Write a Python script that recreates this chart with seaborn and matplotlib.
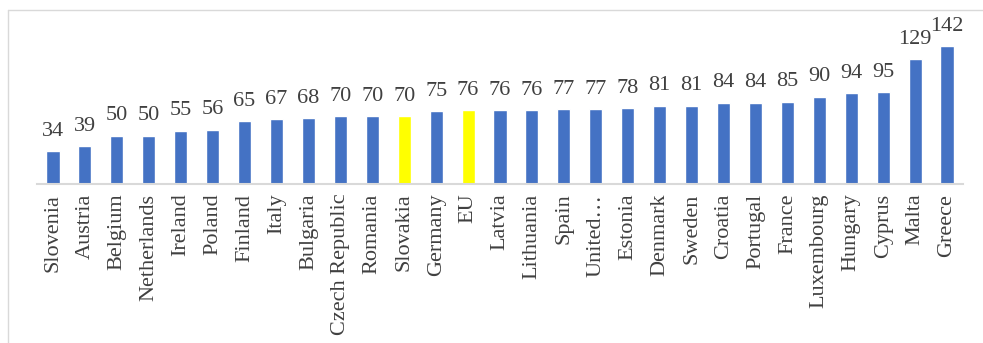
import matplotlib
matplotlib.use("Agg")
import matplotlib.pyplot as plt
import seaborn as sns
import pandas as pd
from matplotlib.lines import Line2D

countries = ["Slovenia", "Austria", "Belgium", "Netherlands", "Ireland", "Poland",
             "Finland", "Italy", "Bulgaria", "Czech Republic", "Romania", "Slovakia",
             "Germany", "EU", "Latvia", "Lithuania", "Spain", "United…", "Estonia",
             "Denmark", "Sweden", "Croatia", "Portugal", "France", "Luxembourg",
             "Hungary", "Cyprus", "Malta", "Greece"]
values = [34, 39, 50, 50, 55, 56, 65, 67, 68, 70, 70, 70, 75, 76, 76, 76, 77, 77, 78,
          81, 81, 84, 84, 85, 90, 94, 95, 129, 142]
highlight = ["Slovakia", "EU"]

df = pd.DataFrame({"country": countries, "value": values})
df["group"] = ["hl" if c in highlight else "base" for c in countries]

sns.set_style("white")
plt.rcParams["font.family"] = ["Liberation Serif", "DejaVu Serif"]
text_color = "#404040"

fig = plt.figure(figsize=(9.83, 3.43), dpi=100)
ax = fig.add_axes([37 / 983, 1 - 184 / 343, 926 / 983, 155 / 343])

sns.barplot(data=df, x="country", y="value", hue="group",
            palette={"base": "#4472C4", "hl": "#FFFF00"},
            dodge=False, width=0.41, legend=False, ax=ax, saturation=1)

for cont in ax.containers:
    ax.bar_label(cont, padding=7.5, fontsize=16, color=text_color)

ax.set_xlim(-0.5, len(countries) - 0.5)
ax.set_ylim(0, 160)
ax.set_xlabel("")
ax.set_ylabel("")
ax.set_yticks([])
ax.tick_params(axis="x", length=0, pad=7, labelsize=16, labelcolor=text_color,
               rotation=90)
for s in ["top", "right", "left"]:
    ax.spines[s].set_visible(False)
ax.spines["bottom"].set_color("#d9d9d9")
ax.spines["bottom"].set_linewidth(1.5)

# outer frame of the chart area
fig.add_artist(Line2D([8 / 983, 1.0], [1 - 10 / 343, 1 - 10 / 343],
                      transform=fig.transFigure, color="#d9d9d9", lw=1))
fig.add_artist(Line2D([8 / 983, 8 / 983], [0, 1 - 10 / 343],
                      transform=fig.transFigure, color="#d9d9d9", lw=1))

fig.savefig("out.png", dpi=100)
